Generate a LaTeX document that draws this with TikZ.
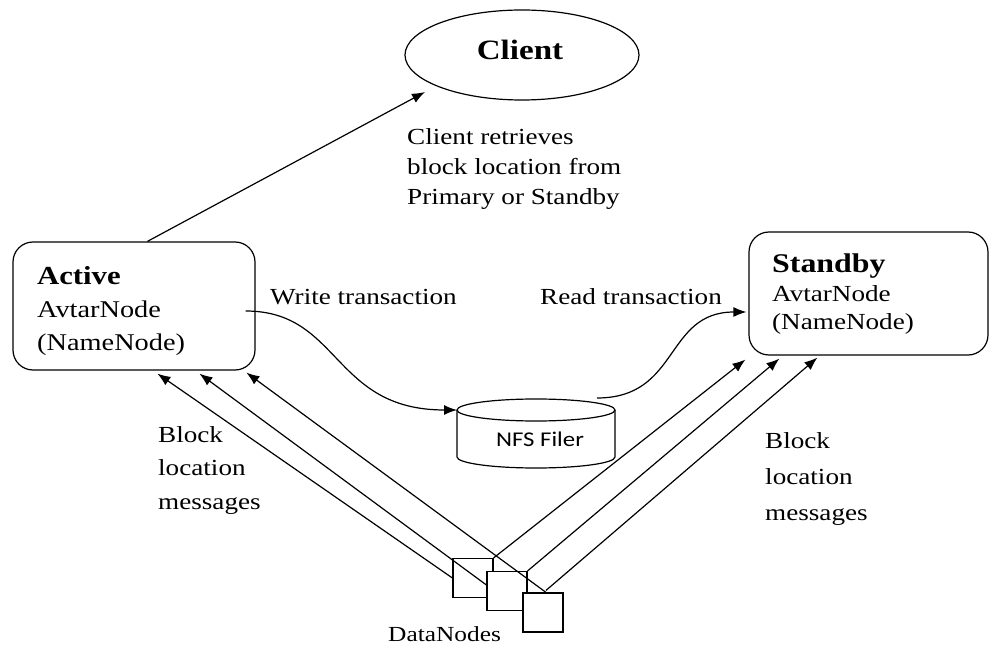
\documentclass[tikz,border=0pt]{standalone}
\usepackage{fontspec}
\usepackage{graphicx}
\setmainfont{Liberation Serif}
\newfontfamily\filerfont{Carlito}
\usetikzlibrary{arrows.meta,calc,shapes.geometric}
% slightly widened lettering
\newcommand\wtext[1]{\scalebox{1.18}[1]{#1}}

\begin{document}
\begin{tikzpicture}[x=1pt,y=-1pt,
  line/.style={line width=1.2pt},
  arr/.style={line, -{Latex[length=13pt,width=10pt]}},
  box/.style={draw, line width=1.2pt, rounded corners=20pt, inner sep=0pt},
  lbl/.style={anchor=base west, inner sep=0pt},
  dn/.style={draw, line width=1.2pt, fill=white, minimum width=40pt, minimum height=39pt, inner sep=0pt}
]
\useasboundingbox (0,0) rectangle (989,647);

% main nodes
\node[draw, ellipse, line width=1.2pt, minimum width=234pt, minimum height=90pt, inner sep=0pt] (client) at (522,55) {};
\node[anchor=base, inner sep=0pt] (clientlbl) at (520,60) {\wtext{\fontsize{28}{30}\selectfont\bfseries Client}};

\node[box, minimum width=242pt, minimum height=128pt] (active) at (134,306) {};
\node[lbl] (activetxt) at (37,285) {\wtext{\fontsize{24}{33}\selectfont\begin{tabular}[t]{@{}l@{}}{\fontsize{26}{33}\selectfont\bfseries Active}\\AvtarNode\\(NameNode)\end{tabular}}};

\node[box, minimum width=239pt, minimum height=123pt] (standby) at (868.5,293.5) {};
\node[lbl] (standbytxt) at (772,273) {\wtext{\fontsize{23}{28.5}\selectfont\begin{tabular}[t]{@{}l@{}}{\fontsize{27}{28.5}\selectfont\bfseries Standby}\\AvtarNode\\(NameNode)\end{tabular}}};

% shared storage
\draw[line] (457,410) -- (457,457) arc[start angle=180, end angle=0, x radius=79, y radius=11] -- (615,410);
\draw[line] (536,410) ellipse [x radius=79, y radius=11];
\coordinate (nfsW) at (457,410);
\coordinate (nfsR) at (597,398);
\node[lbl] (nfs) at (496,446) {\filerfont\wtext{\fontsize{21}{24}\selectfont NFS Filer}};

% data nodes
\node[dn] (dn1) at (473,578) {};
\node[dn] (dn2) at (507,591) {};
\node[dn] (dn3) at (543,612.5) {};
\node[lbl] (dnlbl) at (388,641) {\wtext{\fontsize{21.5}{24}\selectfont DataNodes}};

% labels
\node[lbl] (clienttxt) at (407,145) {\wtext{\fontsize{23}{30}\selectfont\begin{tabular}[t]{@{}l@{}}Client retrieves\\block location from\\Primary or Standby\end{tabular}}};
\node[lbl] (writetxt) at (270,305) {\wtext{\fontsize{23}{28}\selectfont Write transaction}};
\node[lbl] (readtxt) at (540,305) {\wtext{\fontsize{23}{28}\selectfont Read transaction}};
\node[lbl] (blockl) at (158,442) {\wtext{\fontsize{23}{34}\selectfont\begin{tabular}[t]{@{}l@{}}Block\\location\\messages\end{tabular}}};
\node[lbl] (blockr) at (765,448) {\wtext{\fontsize{23}{36}\selectfont\begin{tabular}[t]{@{}l@{}}Block\\location\\messages\end{tabular}}};

% connectors
\draw[arr] ($(active.north west)+(135,0)$) -- ($(client.center)+(-97,37)$);
\draw[arr] ($(active.east)+(-10,5)$) .. controls +(95,0) and +(-125,0) .. (nfsW);
\draw[arr] (nfsR) .. controls +(83,0) and +(-82,0) .. ($(standby.west)+(-2,18.5)$);

\draw[arr] (dn1.west) -- ($(active.south west)+(145,3)$);
\draw[arr] ($(dn2.north west)!0.35!(dn2.south west)$) -- ($(active.south west)+(187,3)$);
\draw[arr] ($(dn3.north)+(3,0)$) -- ($(active.south west)+(234,2)$);

\draw[arr] (dn1.north east) -- ($(standby.south west)+(-3,4)$);
\draw[arr] (dn2.north east) -- ($(standby.south west)+(31,3)$);
\draw[arr] ($(dn3.north)+(3,-2)$) -- ($(standby.south west)+(69,2)$);
\end{tikzpicture}
\end{document}
